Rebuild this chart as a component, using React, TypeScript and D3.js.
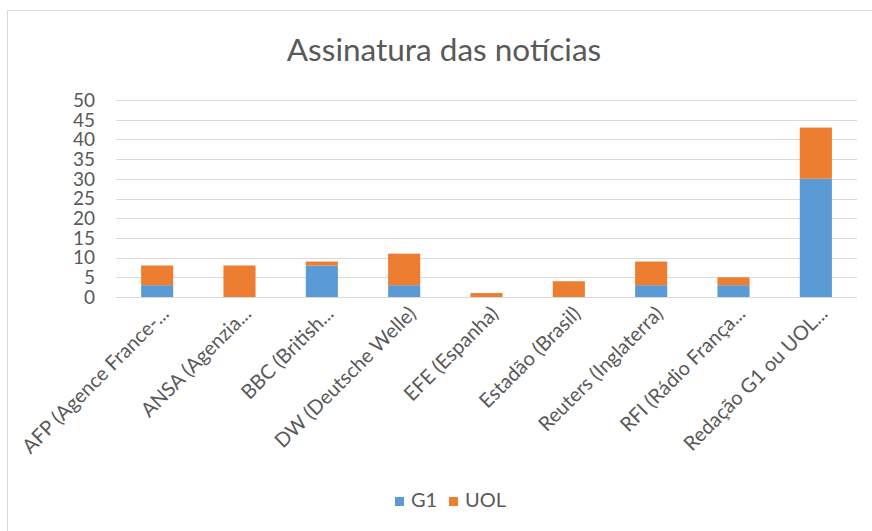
import React, { useRef, useEffect } from 'react';
import * as d3 from 'd3';

const categories = [
  'AFP (Agence France-...',
  'ANSA (Agenzia...',
  'BBC (British...',
  'DW (Deutsche Welle)',
  'EFE (Espanha)',
  'Estadão (Brasil)',
  'Reuters (Inglaterra)',
  'RFI (Rádio França...',
  'Redação G1 ou UOL...'
];
const g1Values = [3, 0, 8, 3, 0, 0, 3, 3, 30];
const uolValues = [5, 8, 1, 8, 1, 4, 6, 2, 13];
const seriesNames = ['G1', 'UOL'];
const seriesColors = ['#5B9BD5', '#ED7D31'];
const yTicks = [0, 5, 10, 15, 20, 25, 30, 35, 40, 45, 50];

const FONT = 'Lato, "Open Sans", sans-serif';
const TEXT_COLOR = '#595959';

const App: React.FC = () => {
  const svgRef = useRef<SVGSVGElement>(null);

  useEffect(() => {
    if (!svgRef.current) return;
    const width = 872,
      height = 531;
    const margin = { top: 100, right: 15, bottom: 234, left: 116 };

    const svg = d3.select(svgRef.current);
    svg.selectAll('*').remove();
    svg.attr('width', width).attr('height', height);

    // chart frame
    svg
      .append('rect')
      .attr('x', 7.5)
      .attr('y', 10.5)
      .attr('width', width + 20)
      .attr('height', height + 20)
      .attr('fill', '#fff')
      .attr('stroke', '#D9D9D9')
      .attr('stroke-width', 1);

    // title
    svg
      .append('text')
      .attr('x', 444)
      .attr('y', 61)
      .attr('text-anchor', 'middle')
      .attr('font-family', FONT)
      .attr('font-size', 31.5)
      .attr('fill', TEXT_COLOR)
      .text('Assinatura das notícias');

    const x = d3
      .scaleBand()
      .domain(categories)
      .range([margin.left, width - margin.right])
      .paddingInner(0.61)
      .paddingOuter(0.305);

    const y = d3
      .scaleLinear()
      .domain([0, 50])
      .range([height - margin.bottom, margin.top]);

    // gridlines
    svg
      .append('g')
      .selectAll('line')
      .data(yTicks)
      .enter()
      .append('line')
      .attr('x1', margin.left)
      .attr('x2', width - margin.right)
      .attr('y1', (d) => Math.round(y(d)) + 0.5)
      .attr('y2', (d) => Math.round(y(d)) + 0.5)
      .attr('stroke', '#D9D9D9')
      .attr('stroke-width', 1);

    // y labels
    svg
      .append('g')
      .selectAll('text')
      .data(yTicks)
      .enter()
      .append('text')
      .attr('x', 95)
      .attr('y', (d) => y(d))
      .attr('dy', '0.36em')
      .attr('text-anchor', 'end')
      .attr('font-family', FONT)
      .attr('font-size', 19)
      .attr('fill', TEXT_COLOR)
      .text((d) => d);

    // stacked bars
    const rows = categories.map((c, i) => ({ cat: c, G1: g1Values[i], UOL: uolValues[i] }));
    const stacked = d3.stack<any>().keys(seriesNames)(rows);

    svg
      .append('g')
      .selectAll('g')
      .data(stacked)
      .enter()
      .append('g')
      .attr('fill', (_, i) => seriesColors[i])
      .selectAll('rect')
      .data((d) => d)
      .enter()
      .append('rect')
      .attr('x', (d) => x(d.data.cat)!)
      .attr('y', (d) => y(d[1]))
      .attr('width', x.bandwidth())
      .attr('height', (d) => y(d[0]) - y(d[1]));

    // category labels
    svg
      .append('g')
      .selectAll('text')
      .data(categories)
      .enter()
      .append('text')
      .attr(
        'transform',
        (d) => 'translate(' + (x(d)! + x.bandwidth() / 2 + 13) + ',' + 315 + ')rotate(-45)'
      )
      .attr('text-anchor', 'end')
      .attr('font-family', FONT)
      .attr('font-size', 20)
      .attr('fill', TEXT_COLOR)
      .text((d) => d);

    // legend
    const legendX = [395, 449];
    const legend = svg
      .append('g')
      .selectAll('g')
      .data(seriesNames)
      .enter()
      .append('g')
      .attr('transform', (_, i) => 'translate(' + legendX[i] + ',497)');
    legend
      .append('rect')
      .attr('width', 9)
      .attr('height', 9)
      .attr('fill', (_, i) => seriesColors[i]);
    legend
      .append('text')
      .attr('x', 16)
      .attr('y', 10)
      .attr('font-family', FONT)
      .attr('font-size', 20)
      .attr('fill', TEXT_COLOR)
      .text((d) => d);
  }, []);

  return <svg ref={svgRef} style={{ position: 'absolute', left: 0, top: 0 }} />;
};

export default App;
